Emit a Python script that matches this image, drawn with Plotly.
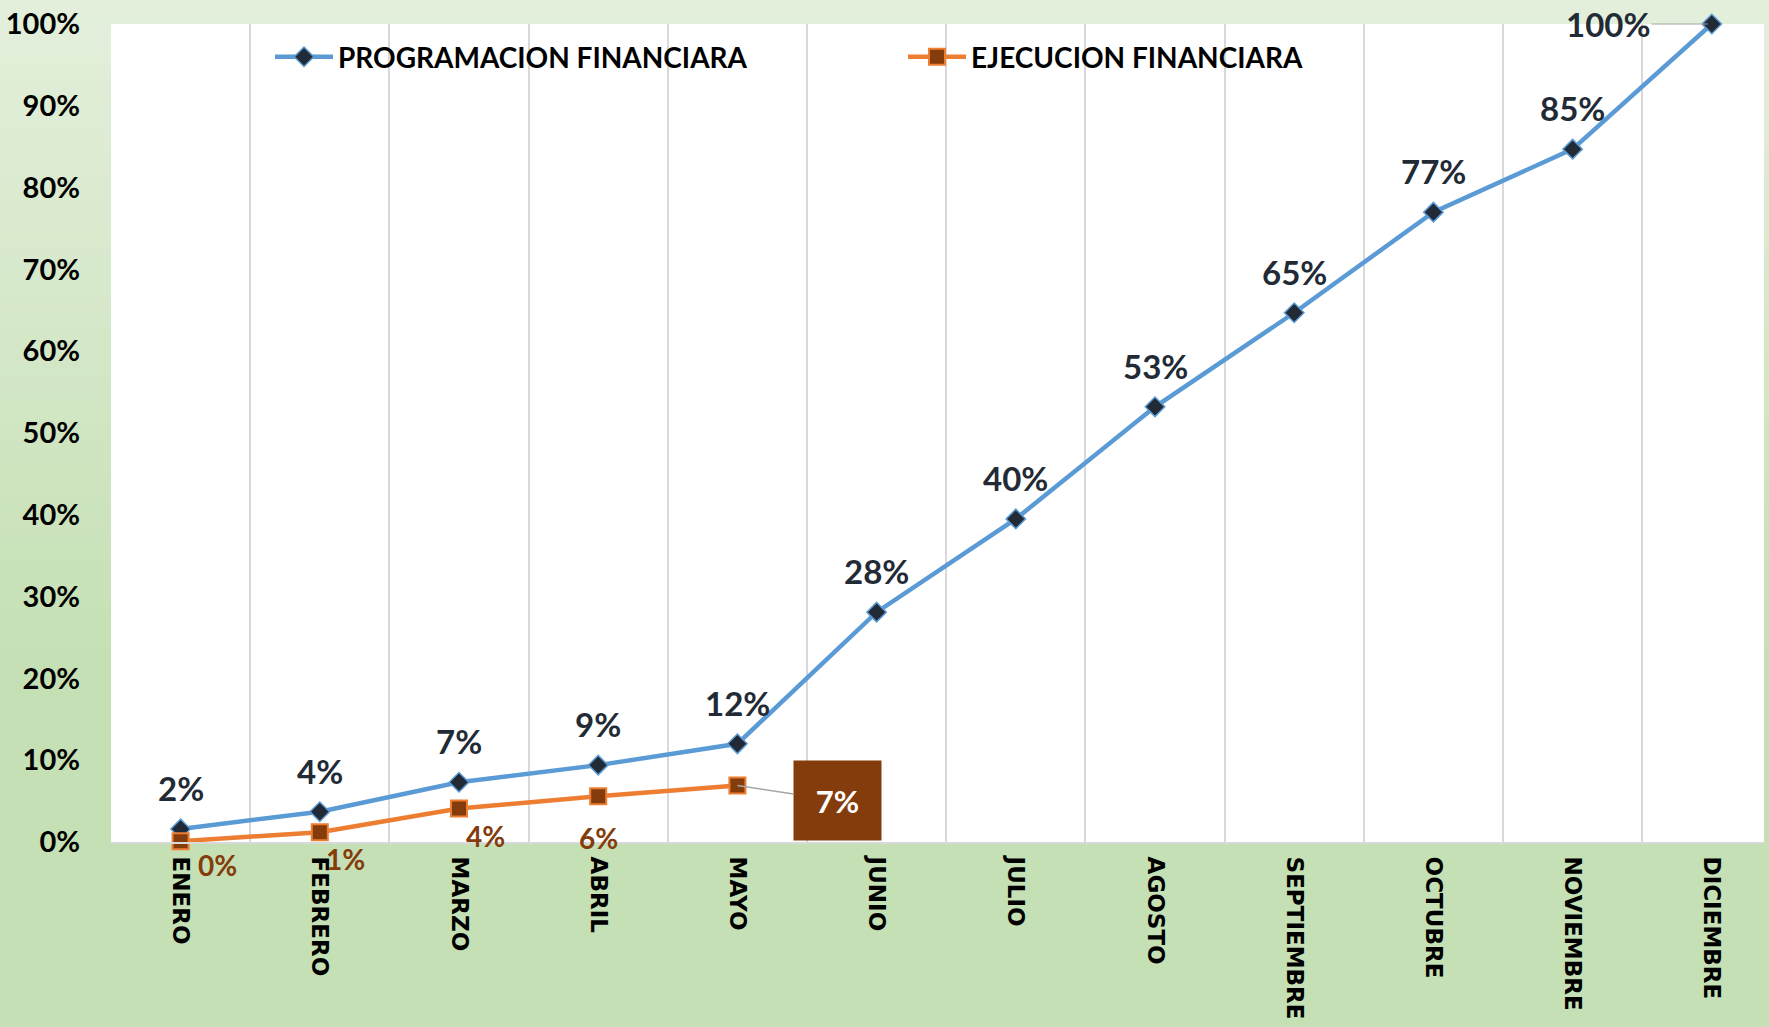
import plotly.graph_objects as go

# ---- data ----
meses = ["ENERO", "FEBRERO", "MARZO", "ABRIL", "MAYO", "JUNIO", "JULIO",
         "AGOSTO", "SEPTIEMBRE", "OCTUBRE", "NOVIEMBRE", "DICIEMBRE"]
programacion = [0.016, 0.037, 0.073, 0.094, 0.120, 0.281, 0.395, 0.532,
                0.647, 0.770, 0.847, 1.000]
ejecucion = [0.001, 0.012, 0.041, 0.056, 0.069]
y_ticks = [0, 0.1, 0.2, 0.3, 0.4, 0.5, 0.6, 0.7, 0.8, 0.9, 1.0]

# ---- styles ----
BLUE = "#5B9BD5"
ORANGE = "#ED7D31"
BROWN = "#843C0C"
NAVY = "#222A35"
W, H = 1769, 1027

fig = go.Figure()

# background gradient (light top -> darker green)
top = (0xE3, 0xEF, 0xDB)
bot = (0xC5, 0xE0, 0xB4)
n = 50
grad_end = 0.66  # fraction of height from top where gradient ends
for i in range(n):
    t = i / (n - 1)
    c = tuple(int(round(top[k] + (bot[k] - top[k]) * t)) for k in range(3))
    y0 = 1 - grad_end * i / n
    y1 = 1 - grad_end * (i + 1) / n
    fig.add_shape(type="rect", xref="paper", yref="paper", x0=0, x1=1,
                  y0=y1 - 0.002, y1=y0, fillcolor="rgb(%d,%d,%d)" % c,
                  line_width=0, layer="below")
fig.add_shape(type="rect", xref="paper", yref="paper", x0=0, x1=1,
              y0=0, y1=1 - grad_end, fillcolor="rgb(%d,%d,%d)" % bot,
              line_width=0, layer="below")
# white plot area
fig.add_shape(type="rect", xref="x domain", yref="y domain", x0=0, x1=1,
              y0=0, y1=1, fillcolor="white", line_width=0, layer="below")

fig.add_trace(go.Scatter(
    x=meses, y=programacion, mode="lines+markers",
    name="PROGRAMACION FINANCIARA",
    line=dict(color=BLUE, width=4.5),
    marker=dict(symbol="diamond", size=15, color=NAVY,
                line=dict(color=BLUE, width=1.5)),
    cliponaxis=False,
))
fig.add_trace(go.Scatter(
    x=meses[:len(ejecucion)], y=ejecucion, mode="lines+markers",
    name="EJECUCION FINANCIARA",
    line=dict(color=ORANGE, width=4.5),
    marker=dict(symbol="square", size=16, color=BROWN,
                line=dict(color=ORANGE, width=2)),
    cliponaxis=False,
))

# data labels - programacion (above points), last one to the left with leader
for i, v in enumerate(programacion):
    txt = "{:.0f}%".format(v * 100)
    if i == len(programacion) - 1:
        fig.add_annotation(x=meses[i], y=v, text=txt, showarrow=True,
                           ax=-104, ay=0, arrowhead=0, arrowwidth=1,
                           arrowcolor="#A6A6A6", standoff=4,
                           font=dict(family="Lato", size=33, color=NAVY,
                                     weight="bold"))
    else:
        fig.add_annotation(x=meses[i], y=v, text=txt, showarrow=False,
                           yshift=41,
                           font=dict(family="Lato", size=33, color=NAVY,
                                     weight="bold"))

# data labels - ejecucion
ej_offsets = [(37, -24), (26, -27), (26, -28), (0, -42)]
for i, v in enumerate(ejecucion):
    txt = "{:.0f}%".format(v * 100)
    if i < len(ej_offsets):
        dx, dy = ej_offsets[i]
        fig.add_annotation(x=meses[i], y=v, text=txt, showarrow=False,
                           xshift=dx, yshift=dy,
                           font=dict(family="Lato", size=28, color=BROWN,
                                     weight="bold"))
    else:
        fig.add_annotation(x=meses[i], y=v, text=txt, showarrow=True,
                           ax=100, ay=15, arrowhead=0, arrowwidth=1.5,
                           arrowcolor="#A6A6A6", standoff=0,
                           bgcolor=BROWN, width=85, height=77,
                           font=dict(family="Lato", size=31, color="white",
                                     weight="bold"))

fig.update_layout(
    width=W, height=H,
    margin=dict(l=0, r=0, t=0, b=0, autoexpand=False),
    paper_bgcolor="#C5E0B4",
    plot_bgcolor="white",
    showlegend=True,
    legend=dict(orientation="h", x=270 / W, xanchor="left",
                y=1 - 57 / H, yanchor="middle",
                bgcolor="rgba(0,0,0,0)", borderwidth=0,
                itemwidth=58, entrywidth=560, entrywidthmode="pixels",
                font=dict(family="Lato", size=28, color="black",
                          weight="bold")),
    xaxis=dict(
        type="category", domain=[111 / W, 1764 / W],
        range=[-0.5, 11.375], tickson="boundaries",
        showgrid=True, gridcolor="#D9D9D9", gridwidth=2,
        showline=True, linecolor="#D9D9D9", linewidth=2,
        ticks="", tickangle=90, ticklabelstandoff=8,
        tickfont=dict(family="DejaVu Sans", size=23, color="black",
                      weight="bold"),
        zeroline=False, fixedrange=True, automargin=False,
    ),
    yaxis=dict(
        domain=[185 / H, 1003 / H], range=[0, 1],
        tickvals=y_ticks, tickformat=".0%",
        showgrid=False, zeroline=False, showline=False,
        ticks="", ticklabelstandoff=30,
        tickfont=dict(family="Lato", size=29, color="black", weight="bold"),
        fixedrange=True, automargin=False,
    ),
)

fig.write_html("out.html")
